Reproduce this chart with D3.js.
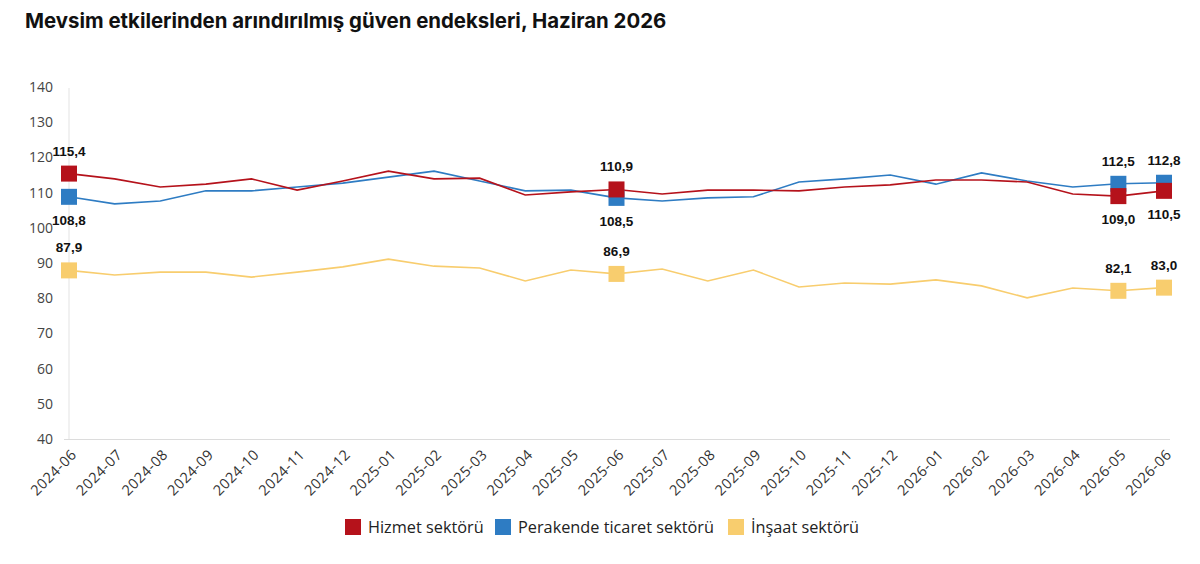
<!DOCTYPE html>
<html>
<head>
<meta charset="utf-8">
<script src="https://cdn.jsdelivr.net/npm/d3@7"></script>
<style>
    body { margin: 0; background: #fff; }
    svg { display: block; }
</style>
</head>
<body>
<svg id="chart" width="1200" height="564"></svg>
<script>
// months on the x axis
let months = ['2024-06', '2024-07', '2024-08', '2024-09', '2024-10', '2024-11', '2024-12',
    '2025-01', '2025-02', '2025-03', '2025-04', '2025-05', '2025-06', '2025-07', '2025-08',
    '2025-09', '2025-10', '2025-11', '2025-12', '2026-01', '2026-02', '2026-03', '2026-04',
    '2026-05', '2026-06'];

let hizmet = [115.4, 113.9, 111.6, 112.4, 113.9, 110.7, 113.3, 116.1, 113.9, 114.1, 109.3, 110.2,
    110.9, 109.6, 110.7, 110.7, 110.5, 111.6, 112.2, 113.6, 113.6, 113.0, 109.6, 109.0, 110.5];
let perakende = [108.8, 106.8, 107.6, 110.5, 110.5, 111.6, 112.7, 114.4, 116.1, 113.3, 110.5, 110.7,
    108.5, 107.6, 108.5, 108.8, 113.0, 113.9, 115.0, 112.4, 115.6, 113.3, 111.6, 112.5, 112.8];
let insaat = [87.9, 86.6, 87.4, 87.4, 86.0, 87.4, 88.9, 91.1, 89.1, 88.6, 84.9, 88.0,
    86.9, 88.3, 84.9, 88.0, 83.2, 84.3, 84.0, 85.2, 83.5, 80.1, 82.9, 82.1, 83.0];

let yTicks = [40, 50, 60, 70, 80, 90, 100, 110, 120, 130, 140];
// which months get a marker and a value label
let markedIdx = [0, 12, 23, 24];

let seriesNames = ['Hizmet sektörü', 'Perakende ticaret sektörü', 'İnşaat sektörü'];
let colors = ['#b5121b', '#2e7cc3', '#f8cd6e'];
// label above (-1) or below (+1) the marker, for each marked month
let labelSide = [
    [-1, -1, 1, 1],
    [1, 1, -1, -1],
    [-1, -1, -1, -1]
];

function init() {
    let svg = d3.select('#chart');
    let series = [hizmet, perakende, insaat];

    svg.append('text')
        .attr('x', 25)
        .attr('y', 28)
        .style('font-family', 'Inter, sans-serif')
        .style('font-weight', 700)
        .style('font-size', '20.4px')
        .style('fill', '#111')
        .text('Mevsim etkilerinden arındırılmış güven endeksleri, Haziran 2026');

    let x = d3.scalePoint().domain(months).range([69, 1164]);
    let y = d3.scaleLinear().domain([40, 140]).range([439, 87]);

    // axis lines
    svg.append('line')
        .attr('x1', 69).attr('x2', 69)
        .attr('y1', 88).attr('y2', 439)
        .style('stroke', '#e3e3e3');
    svg.append('line')
        .attr('x1', 64).attr('x2', 1170)
        .attr('y1', 439.5).attr('y2', 439.5)
        .style('stroke', '#dcdcdc');

    svg.append('g').selectAll('text').data(yTicks).join('text')
        .attr('x', 53)
        .attr('y', d => y(d))
        .attr('dy', '0.35em')
        .attr('text-anchor', 'end')
        .style('font-family', '"Open Sans", sans-serif')
        .style('font-size', '14px')
        .style('fill', '#444')
        .text(d => d);

    svg.append('g').selectAll('text').data(months).join('text')
        .attr('transform', d => 'translate(' + (x(d) + 5) + ',452) rotate(-45)')
        .attr('text-anchor', 'end')
        .attr('dy', '0.35em')
        .style('font-family', '"Open Sans", sans-serif')
        .style('font-size', '14.5px')
        .style('letter-spacing', '0.5px')
        .style('fill', '#333')
        .text(d => d);

    let line = d3.line()
        .x((d, i) => x(months[i]))
        .y(d => y(d));

    // draw yellow first, red last
    let order = [2, 1, 0];
    order.forEach(s => {
        svg.append('path')
            .attr('d', line(series[s]))
            .style('fill', 'none')
            .style('stroke', colors[s])
            .style('stroke-width', 1.6);
    });

    order.forEach(s => {
        svg.append('g').selectAll('rect').data(markedIdx).join('rect')
            .attr('x', i => x(months[i]) - 8)
            .attr('y', i => y(series[s][i]) - 8)
            .attr('width', 16)
            .attr('height', 16)
            .style('fill', colors[s]);
    });

    order.forEach(s => {
        svg.append('g').selectAll('text').data(markedIdx).join('text')
            .attr('x', i => x(months[i]))
            .attr('y', (i, k) => y(series[s][i]) + (labelSide[s][k] < 0 ? -18 : 28))
            .attr('text-anchor', 'middle')
            .style('font-family', '"Liberation Sans", Arial, sans-serif')
            .style('font-weight', 700)
            .style('font-size', '13.5px')
            .style('fill', '#111')
            .text(i => d3.format('.1f')(series[s][i]).replace('.', ','));
    });

    // legend
    let legendX = [345, 495, 728];
    let legend = svg.append('g').selectAll('g').data(seriesNames).join('g')
        .attr('transform', (d, i) => 'translate(' + legendX[i] + ',519)');
    legend.append('rect')
        .attr('width', 16)
        .attr('height', 16)
        .style('fill', (d, i) => colors[i]);
    legend.append('text')
        .attr('x', 23)
        .attr('y', 8)
        .attr('dy', '0.35em')
        .style('font-family', '"Open Sans", sans-serif')
        .style('font-size', '16.3px')
        .style('fill', '#222')
        .text(d => d);
}

init();
</script>
</body>
</html>
